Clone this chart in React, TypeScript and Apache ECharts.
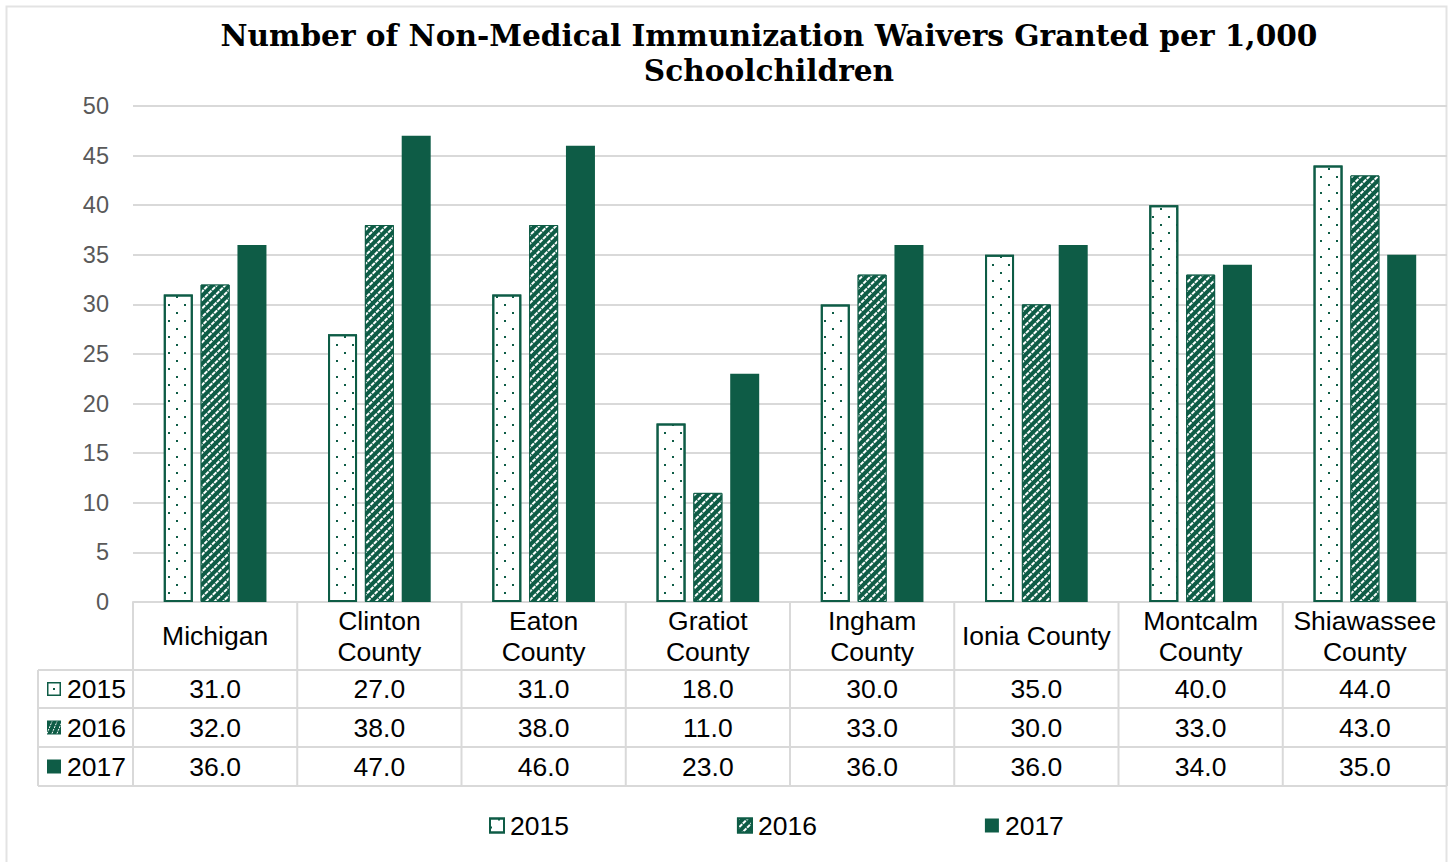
import React, { useEffect, useRef } from "react";
import * as echarts from "echarts";

const categories = [
  "Michigan",
  "Clinton\nCounty",
  "Eaton\nCounty",
  "Gratiot\nCounty",
  "Ingham\nCounty",
  "Ionia County",
  "Montcalm\nCounty",
  "Shiawassee\nCounty",
];
const years = ["2015", "2016", "2017"];
const values2015 = [31, 27, 31, 18, 30, 35, 40, 44];
const values2016 = [32, 38, 38, 11, 33, 30, 33, 43];
const values2017 = [36, 47, 46, 23, 36, 36, 34, 35];
const yTicks = { min: 0, max: 50, interval: 5 };
const titleLines = [
  "Number of Non-Medical Immunization Waivers Granted per 1,000",
  "Schoolchildren",
];

const GREEN = "#0E5C46";
const GRIDC = "#D9D9D9";
const SANS = "Liberation Sans, Arial, sans-serif";
const TFONT = 26.5;

export default function App() {
  const ref = useRef<HTMLDivElement>(null);
  useEffect(() => {
    if (!ref.current) return;
    const chart = echarts.init(ref.current, undefined, { renderer: "svg" });
    const W = 1448;
    const gridLeft = 133;
    const gridRight = 1447;
    const gridTop = 106;
    const gridBottom = 602;
    const catW = (gridRight - gridLeft) / categories.length;
    const rowYs = [670, 708, 747, 786];
    const tableLeft = 38;
    const seriesVals = [values2015, values2016, values2017];

    const graphics: any[] = [];
    graphics.push({
      type: "rect",
      shape: { x: 6.5, y: 6.5, width: 1440, height: 860 },
      style: { fill: "none", stroke: "#E3E3E3", lineWidth: 2 },
      silent: true,
    });
    titleLines.forEach((t, i) => {
      graphics.push({
        type: "text",
        x: 769,
        y: 35 + i * 35,
        style: {
          text: t,
          align: "center",
          verticalAlign: "middle",
          fontFamily: "DejaVu Serif, serif",
          fontWeight: "bold",
          fontSize: 29.6,
          fill: "#000",
        },
      });
    });
    for (let i = 0; i <= categories.length; i++) {
      const x = gridLeft + i * catW;
      graphics.push({
        type: "line",
        shape: { x1: x, y1: gridBottom, x2: x, y2: rowYs[3] },
        style: { stroke: GRIDC, lineWidth: 2 },
      });
    }
    graphics.push({
      type: "line",
      shape: { x1: tableLeft, y1: rowYs[0], x2: tableLeft, y2: rowYs[3] },
      style: { stroke: GRIDC, lineWidth: 2 },
    });
    rowYs.forEach((y) => {
      graphics.push({
        type: "line",
        shape: { x1: tableLeft, y1: y, x2: gridRight, y2: y },
        style: { stroke: GRIDC, lineWidth: 2 },
      });
    });
    categories.forEach((c, i) => {
      graphics.push({
        type: "text",
        x: gridLeft + (i + 0.5) * catW,
        y: (gridBottom + rowYs[0]) / 2,
        style: {
          text: c,
          align: "center",
          verticalAlign: "middle",
          fontFamily: SANS,
          fontSize: TFONT,
          lineHeight: 31,
          fill: "#000",
        },
      });
    });
    seriesVals.forEach((vals, r) => {
      const yc = (rowYs[r] + rowYs[r + 1]) / 2;
      vals.forEach((v, i) => {
        graphics.push({
          type: "text",
          x: gridLeft + (i + 0.5) * catW,
          y: yc,
          style: {
            text: v.toFixed(1),
            align: "center",
            verticalAlign: "middle",
            fontFamily: SANS,
            fontSize: TFONT,
            fill: "#000",
          },
        });
      });
      const kx = 47;
      const ky = yc - 7;
      if (r === 0) {
        graphics.push({
          type: "rect",
          shape: { x: kx + 0.75, y: ky + 0.75, width: 12.5, height: 12.5 },
          style: { fill: "#fff", stroke: GREEN, lineWidth: 1.5 },
        });
        graphics.push({
          type: "rect",
          shape: { x: kx + 6, y: ky + 6, width: 2, height: 2 },
          style: { fill: GREEN },
        });
      } else if (r === 1) {
        graphics.push({
          type: "rect",
          shape: { x: kx, y: ky, width: 14, height: 14 },
          style: { fill: GREEN },
        });
        [4, 9, 14].forEach((o) => {
          graphics.push({
            type: "line",
            shape: { x1: kx + o - 4, y1: ky + 13, x2: kx + o + 1, y2: ky + 1 },
            style: { stroke: "#fff", lineWidth: 1, lineDash: [2, 1] },
          });
        });
      } else {
        graphics.push({
          type: "rect",
          shape: { x: kx, y: ky, width: 14, height: 14 },
          style: { fill: GREEN },
        });
      }
      graphics.push({
        type: "text",
        x: 67,
        y: yc,
        style: {
          text: years[r],
          align: "left",
          verticalAlign: "middle",
          fontFamily: SANS,
          fontSize: TFONT,
          fill: "#000",
        },
      });
    });

    const dotDecal = {
      symbol: "rect",
      symbolSize: 1,
      color: GREEN,
      dashArrayX: [
        [2, 14],
        [0, 8, 2, 6],
      ],
      dashArrayY: [2, 6],
      rotation: 0,
    };
    const stripeDecal = {
      symbol: "rect",
      symbolSize: 1,
      color: "#ffffff",
      dashArrayX: [4, 1],
      dashArrayY: [1.2, 3.3],
      rotation: -Math.PI / 4,
    };

    chart.setOption({
      animation: false,
      backgroundColor: "#fff",
      grid: {
        left: gridLeft,
        right: W - gridRight,
        top: gridTop,
        bottom: 862 - gridBottom,
        containLabel: false,
      },
      legend: {
        left: 484,
        top: 807,
        itemWidth: 14,
        itemHeight: 14,
        itemGap: 168,
        icon: "rect",
        textStyle: { fontFamily: SANS, fontSize: TFONT, color: "#000", padding: [0, 0, 0, 1] },
        data: years,
      },
      xAxis: {
        type: "category",
        data: categories,
        axisLine: { lineStyle: { color: GRIDC, width: 2 } },
        axisTick: { show: false },
        axisLabel: { show: false },
      },
      yAxis: {
        type: "value",
        min: yTicks.min,
        max: yTicks.max,
        interval: yTicks.interval,
        axisLabel: {
          fontFamily: SANS,
          fontSize: 23.5,
          color: "#595959",
          margin: 24,
        },
        axisLine: { show: false },
        axisTick: { show: false },
        splitLine: { lineStyle: { color: GRIDC, width: 2 } },
      },
      series: [
        {
          name: years[0],
          type: "bar",
          data: values2015,
          barWidth: 29,
          barGap: "27%",
          itemStyle: {
            color: "#ffffff",
            borderColor: GREEN,
            borderWidth: 2,
            decal: dotDecal,
          },
        },
        {
          name: years[1],
          type: "bar",
          data: values2016,
          barWidth: 29,
          barGap: "27%",
          itemStyle: {
            color: GREEN,
            borderColor: GREEN,
            borderWidth: 1,
            decal: stripeDecal,
          },
        },
        {
          name: years[2],
          type: "bar",
          data: values2017,
          barWidth: 29,
          barGap: "27%",
          itemStyle: { color: GREEN },
        },
      ],
      graphic: { elements: graphics },
    });
    return () => chart.dispose();
  }, []);
  return (
    <div
      ref={ref}
      style={{ position: "absolute", left: 0, top: 0, width: 1448, height: 862 }}
    />
  );
}
